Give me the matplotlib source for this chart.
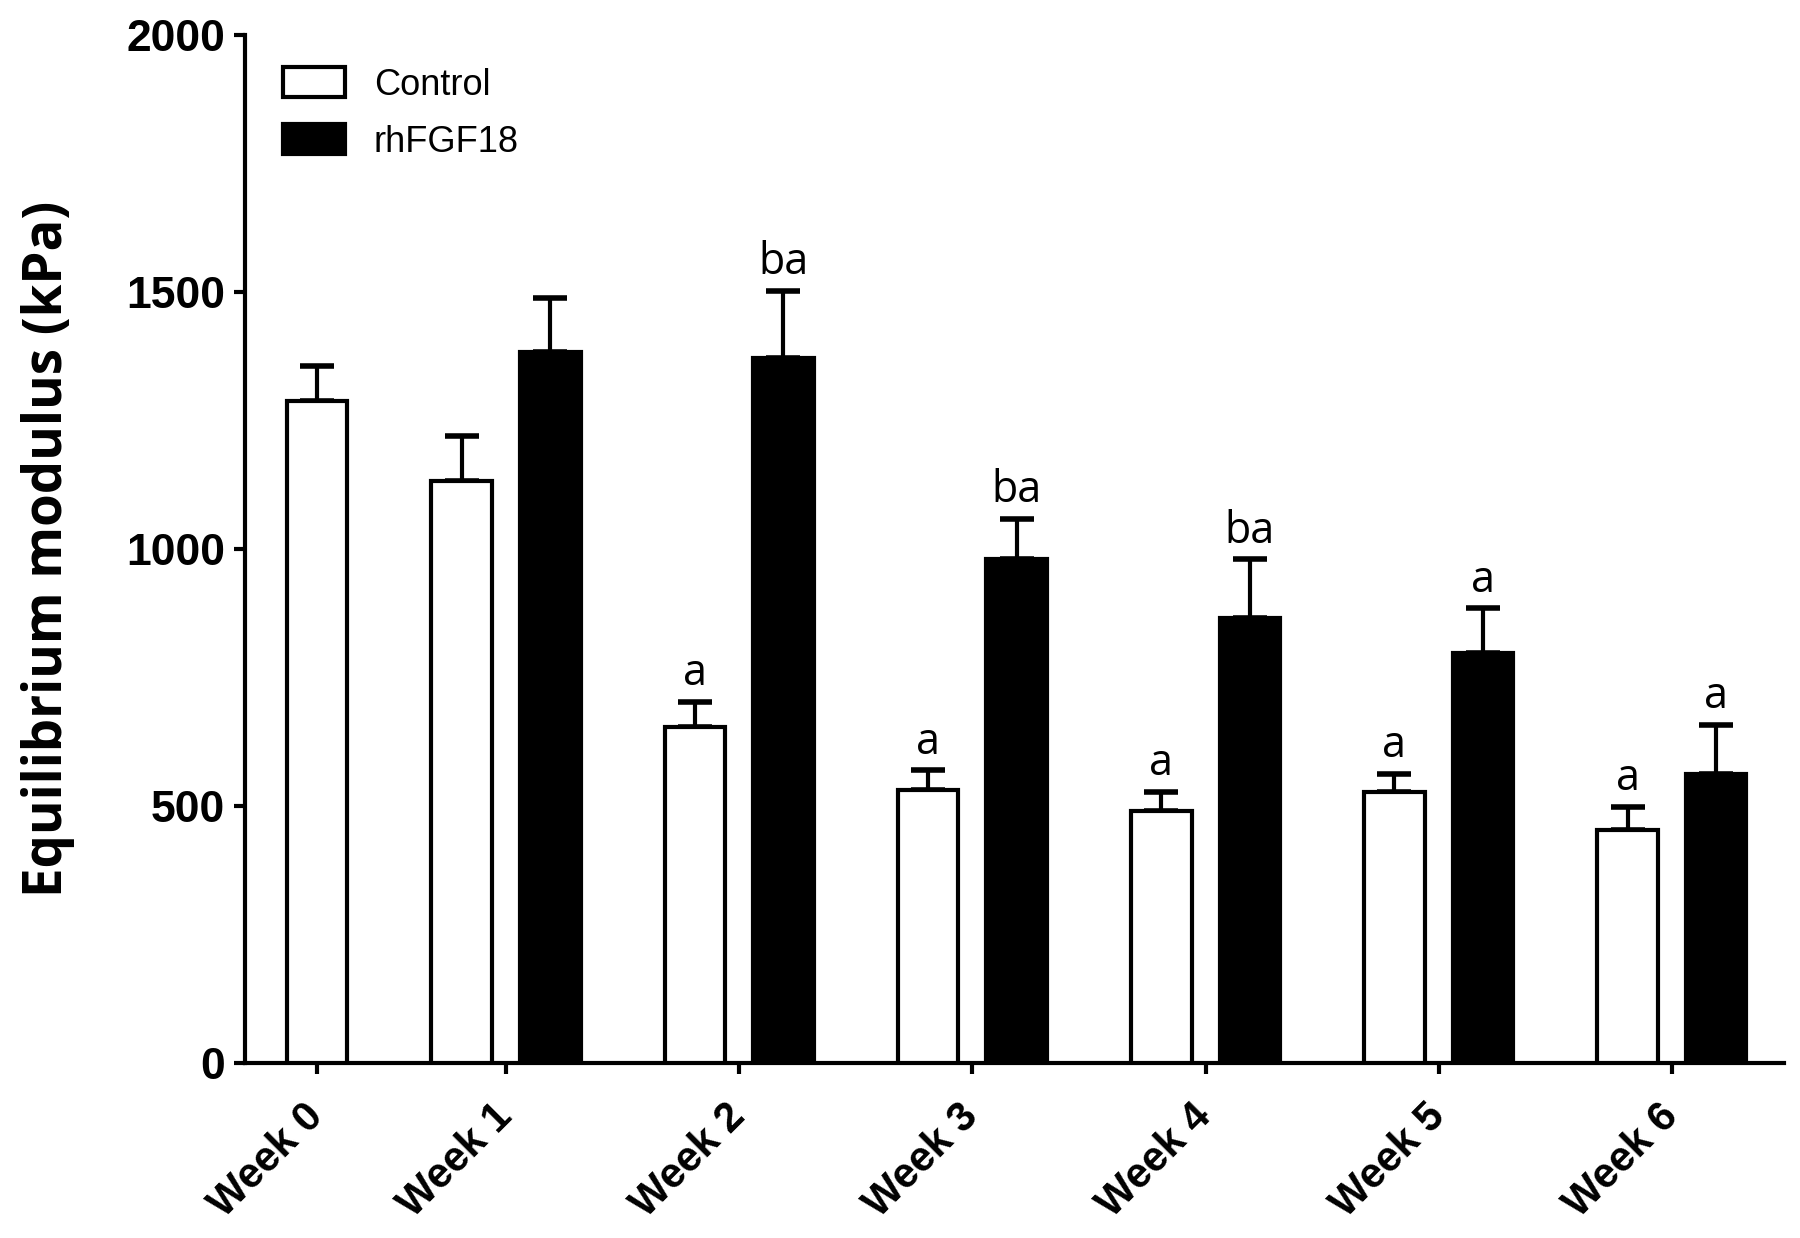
import numpy as np
import matplotlib
matplotlib.use("Agg")
import matplotlib.pyplot as plt
from matplotlib.patches import Patch

weeks = ["Week 0", "Week 1", "Week 2", "Week 3", "Week 4", "Week 5", "Week 6"]
control = [1288, 1132, 654, 531, 491, 527, 453]
control_err = [67, 87, 49, 38, 36, 35, 45]
fgf = [np.nan, 1382, 1371, 980, 866, 797, 562]
fgf_err = [0, 105, 131, 78, 114, 87, 96]
control_marks = ["", "", "a", "a", "a", "a", "a"]
fgf_marks = ["", "", "ba", "ba", "ba", "a", "a"]

# week 0 has only the control bar, so it sits a bit closer to week 1
xpos = np.array([0.19, 1, 2, 3, 4, 5, 6])
off = np.array([0, 0.19, 0.19, 0.19, 0.19, 0.19, 0.19])
w = 0.26
lw = 3

fig = plt.figure(figsize=(18, 12.38), dpi=100)
ax = fig.add_axes([0.136, 0.1414, 0.855, 0.8306])

xc = xpos - off
xf = (xpos + off)[1:]
ax.bar(xc, control, w, color="white", edgecolor="black", linewidth=lw, zorder=3)
ax.bar(xf, fgf[1:], w, color="black", edgecolor="black", linewidth=lw, zorder=3)
ax.errorbar(xc, control, yerr=[np.zeros(7), control_err], fmt="none",
            ecolor="black", elinewidth=lw, capsize=12, capthick=lw + 1, zorder=2)
ax.errorbar(xf, fgf[1:], yerr=[np.zeros(6), fgf_err[1:]], fmt="none",
            ecolor="black", elinewidth=lw, capsize=12, capthick=lw + 1, zorder=2)

for x, v, e, m in zip(xc, control, control_err, control_marks):
    if m:
        ax.annotate(m, (x, v + e), xytext=(0, 4), textcoords="offset points",
                    ha="center", va="bottom", fontsize=31, family="Open Sans")
for x, v, e, m in zip(xf, fgf[1:], fgf_err[1:], fgf_marks[1:]):
    if m:
        ax.annotate(m, (x, v + e), xytext=(0, 4), textcoords="offset points",
                    ha="center", va="bottom", fontsize=31, family="Open Sans")

ax.set_xlim(-0.12, 6.48)
ax.set_ylim(0, 2000)
ax.set_yticks([0, 500, 1000, 1500, 2000])
ax.set_xticks(xpos)
ax.set_xticklabels(weeks, rotation=45, ha="right", va="center",
                   rotation_mode="anchor", fontsize=30, fontweight="bold",
                   family="Liberation Sans")
for lab in ax.get_yticklabels():
    lab.set_fontsize(32)
    lab.set_fontweight("bold")
    lab.set_family("Liberation Sans")
ax.set_ylabel("Equilibrium modulus (kPa)", fontsize=38, fontweight="bold",
              family="Open Sans", labelpad=37)

for s in ["top", "right"]:
    ax.spines[s].set_visible(False)
for s in ["left", "bottom"]:
    ax.spines[s].set_linewidth(lw)
ax.tick_params(axis="both", width=lw, length=8, direction="out", pad=6)
ax.tick_params(axis="x", pad=26)

handles = [Patch(facecolor="white", edgecolor="black", linewidth=lw, label="Control"),
           Patch(facecolor="black", edgecolor="black", linewidth=lw, label="rhFGF18")]
ax.legend(handles=handles, loc="upper left", bbox_to_anchor=(0.004, 1.0),
          frameon=False, prop={"family": "Liberation Sans", "size": 26},
          handlelength=1.7, handleheight=0.9, labelspacing=0.6)

fig.savefig("out.png", dpi=100)
